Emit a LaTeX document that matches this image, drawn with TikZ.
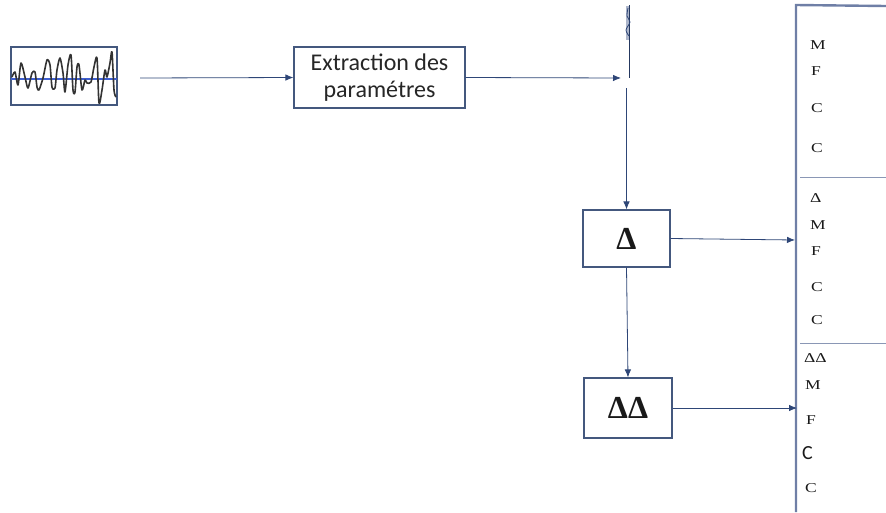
\documentclass[tikz,border=0pt]{standalone}
\usepackage{fontspec}
\usepackage{graphicx}
\setmainfont{Liberation Serif}
\newfontfamily\calib{Carlito}
\usetikzlibrary{arrows.meta}
\definecolor{arr}{HTML}{2E4677}
\definecolor{boxc}{HTML}{44587E}
\definecolor{panelc}{HTML}{6F7FA6}
\definecolor{sepc}{HTML}{8A97B5}
\definecolor{wavblue}{HTML}{3F5FD0}
\newcommand{\widelet}[1]{\scalebox{1.3}[1]{#1}}
\tikzset{
  blk/.style={draw=boxc, line width=1.1pt, fill=white, inner sep=0pt},
  con/.style={draw=arr, line width=0.8pt, -{Latex[length=8pt,width=6.5pt]}},
  lbl/.style={font=\fontsize{13.5}{13.5}\selectfont, anchor=west, inner sep=0pt, text=black!90},
  dlt/.style={font=\bfseries\fontsize{32}{32}\selectfont, text=black!90},
}
\begin{document}
\begin{tikzpicture}[x=1pt,y=-1pt]
\useasboundingbox (0,0) rectangle (886,512);
% signal box
\node[blk, minimum width=106pt, minimum height=58pt] (sig) at (64,76) {};
\draw[wavblue, line width=1.8pt] (11,79) -- (117,79);
\draw[black!80, line width=1.6pt, line join=round] plot[smooth, tension=0.45] coordinates {
(12,77) (15,72) (18,85) (21,63) (25,77) (28,88) (32,73) (35,72) (37,87) (39,90) (43,78) (47,60) (50,65) (52,87) (55,88) (57,70) (60,58) (63,73) (65,92) (68,65) (71,55) (73,90) (75,92) (77,67) (79,65) (82,90) (85,80) (87,83) (91,82) (94,67) (97,58) (99,103) (102,90) (105,70) (107,77) (110,63) (112,52) (114,90) (116,97)};
% extraction
\node[blk, minimum width=171pt, minimum height=61pt, align=center,
      font=\calib\fontsize{24}{27}\selectfont, text=black!85] (ext) at (379.5,77.5) {Extraction des\\param\'etres};
\coordinate (s0) at (140,78);
\draw[con] (s0) -- (ext.west);
\coordinate (m0) at (621,78);
\draw[con] (ext.east) -- (m0);
% small feature strip
\fill[sepc!70] (626,6) rectangle (629,40);
\draw[arr!80!black, line width=1.3pt] (629.5,5) -- (629.5,78);
\draw[arr, line width=0.8pt] plot[smooth] coordinates {(628,8) (627,16) (630,22) (626,30) (629,36)};
% delta boxes
\node[blk, minimum width=87pt, minimum height=57pt, dlt] (d1) at (626.5,238.5) {Δ};
\node[blk, minimum width=88pt, minimum height=60pt, dlt] (d2) at (628,408) {ΔΔ};
\coordinate (v0) at (626.5,88);
\draw[con] (v0) -- (d1.north);
\draw[con] (d1.south) -- (d2.north);
% panel
\coordinate (pt) at (796,5);
\coordinate (pb) at (796,512);
\coordinate (pr) at (886,6);
\draw[panelc, line width=2.4pt] (pb) -- (pt) -- (pr);
\coordinate (sa) at (800,177);
\coordinate (sb) at (886,177);
\coordinate (sc) at (800,343);
\coordinate (sd) at (886,343);
\draw[sepc, line width=0.9pt] (sa) -- (sb);
\draw[sepc, line width=0.9pt] (sc) -- (sd);
\coordinate (e1) at (795,240);
\coordinate (e2) at (797,408);
\draw[con] (d1.east) -- (e1);
\draw[con] (d2.east) -- (e2);
% labels
\node[lbl] (t1) at (810,45) {\widelet{M}};
\node[lbl] (t2) at (811,71) {\widelet{F}};
\node[lbl] (t3) at (811,108) {\widelet{C}};
\node[lbl] (t4) at (811,148) {\widelet{C}};
\node[lbl] (t5) at (810,198) {\widelet{Δ}};
\node[lbl] (t6) at (810,225) {\widelet{M}};
\node[lbl] (t7) at (811,251) {\widelet{F}};
\node[lbl] (t8) at (811,287) {\widelet{C}};
\node[lbl] (t9) at (811,320) {\widelet{C}};
\node[lbl] (t10) at (804,358) {\widelet{ΔΔ}};
\node[lbl] (t11) at (805,385) {\widelet{M}};
\node[lbl] (t12) at (806,420) {\widelet{F}};
\node[lbl, font=\calib\fontsize{20}{20}\selectfont] (t13) at (802,453) {C};
\node[lbl] (t14) at (805,488) {\widelet{C}};
\end{tikzpicture}
\end{document}
